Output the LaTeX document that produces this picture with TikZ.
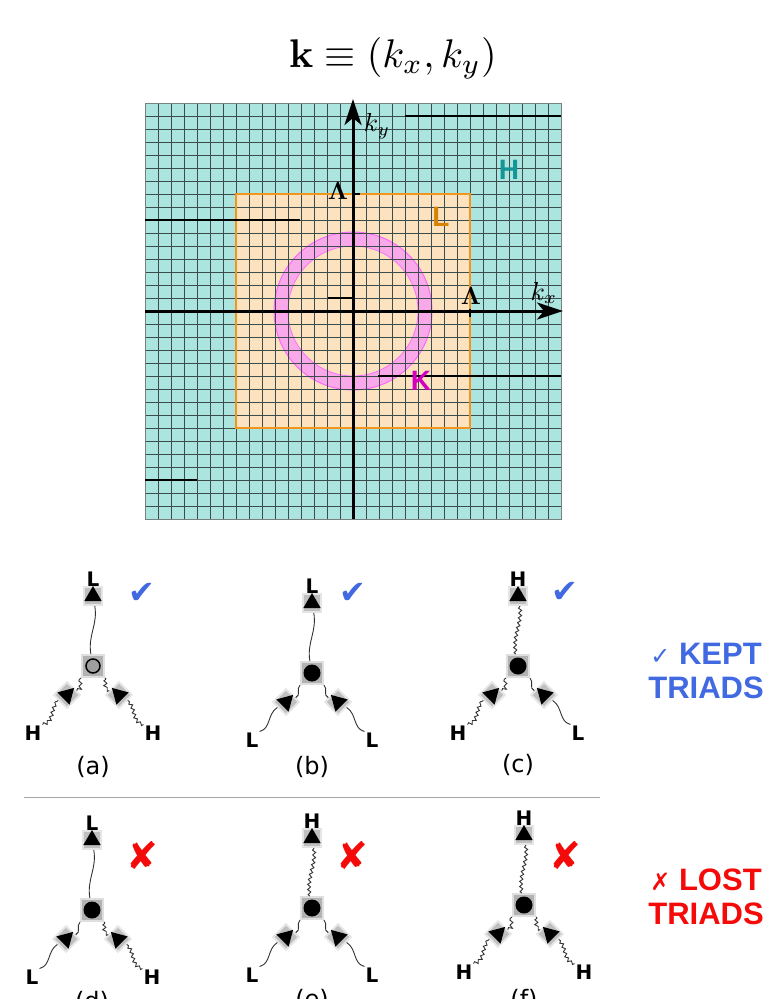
\documentclass[tikz,border=0pt]{standalone}
\usepackage[no-math]{fontspec}
\newfontfamily\labfont{DejaVu Sans}
\newfontfamily\headfont{Liberation Sans}
\usepackage{amsmath,amssymb}
\usetikzlibrary{arrows.meta,shapes.geometric,decorations.pathmorphing,positioning}
\definecolor{highTeal}{RGB}{172,228,224}
\definecolor{highText}{RGB}{20,150,150}
\definecolor{lowFill}{RGB}{253,226,192}
\definecolor{lowEdge}{RGB}{240,150,30}
\definecolor{lowText}{RGB}{215,130,0}
\definecolor{ringPink}{RGB}{248,150,248}
\definecolor{ringText}{RGB}{210,0,190}
\definecolor{gridGray}{RGB}{60,75,75}
\definecolor{keptBlue}{RGB}{65,105,225}
\definecolor{lostRed}{RGB}{245,10,10}

\tikzset{
  gridline/.style={draw=gridGray, line width=.7pt},
  axisline/.style={line width=3pt, -{Stealth[length=26pt,width=17pt,inset=7pt]}},
  vbox/.style={rectangle, minimum size=22pt, inner sep=0, fill=gray!60, draw=gray!25, line width=2pt},
  vdot/.style={circle, minimum size=17pt, inner sep=0, fill=black},
  vring/.style={circle, minimum size=14pt, inner sep=0, fill=gray!75, draw=black, line width=1.5pt},
  abox/.style={rectangle, minimum size=18pt, inner sep=0, fill=gray!50, draw=gray!20, line width=2pt},
  headtri/.style={regular polygon, regular polygon sides=3, minimum size=20pt, inner sep=0, fill=black},
  propL/.style={draw=black!80, line width=.9pt},
  propH/.style={draw=black!80, line width=.9pt, decorate,
    decoration={snake, amplitude=1.5pt, segment length=5pt}},
  leglab/.style={font=\labfont\bfseries\fontsize{20}{20}\selectfont, inner sep=1pt},
  capfont/.style={font=\labfont\fontsize{24}{24}\selectfont},
  okmark/.style={font=\labfont\fontsize{32}{32}\selectfont, text=keptBlue},
  nomark/.style={font=\labfont\fontsize{38}{38}\selectfont, text=lostRed},
  regionlab/.style={font=\headfont\bfseries\fontsize{28}{28}\selectfont},
  sidelab/.style={font=\headfont\bfseries\fontsize{31}{34}\selectfont, align=center}
}

% one triad: x, y, top leg, left leg, right leg, caption, vertex style, caption offset
\newcommand{\triad}[8]{%
  \begin{scope}[shift={(#1,#2)}]
    \node[vbox] (v) at (0,0) {};
    \node[#7] (vc) at (v) {};
    \node[abox] (t) at (0,70) {};
    \node[headtri] (tt) at (t) {};
    \node[abox, rotate=-45] (l) at (-26,-29) {};
    \node[headtri, rotate=-45] (lt) at (l) {};
    \node[abox, rotate=45] (r) at (26,-29) {};
    \node[headtri, rotate=45] (rt) at (r) {};
    \node[leglab] (tl) at (0,87) {#3};
    \node[leglab] (ll) at (-60,-67) {#4};
    \node[leglab] (rl) at (60,-67) {#5};
    \draw[prop#3] (v) to[out=100,in=-80] (t);
    \draw[prop#4] (ll.north east) to[out=15,in=235] (l);
    \draw[prop#4] (l) to[out=55,in=225] (v);
    \draw[prop#5] (rl.north west) to[out=165,in=-55] (r);
    \draw[prop#5] (r) to[out=125,in=-45] (v);
    \node[capfont] (cap) at (0,#8) {(#6)};
  \end{scope}}

\begin{document}
\begin{tikzpicture}[x=1pt, y=1pt]
  \useasboundingbox (0,0) rectangle (769,-999);

  \node (title) at (393,-58) {\scalebox{4}{$\mathbf{k}\equiv(k_x,k_y)$}};

  % momentum plane
  \begin{scope}[shift={(353,-311)}]
    \fill[highTeal] (-208,-208) rectangle (208,208);
    \fill[lowFill] (-117,-117) rectangle (117,117);
    \draw[ringPink, opacity=.75, line width=14pt] (0,0) circle (72);
    \draw[ringPink!70!magenta, line width=1pt] (0,0) circle (79);
    \draw[ringPink!70!magenta, line width=.7pt] (0,0) circle (65);
    \draw[gridline] (-208,-208) grid[step=13] (208,208);
    \draw[lowEdge, line width=1.5pt] (-117,-117) rectangle (117,117);
    \draw[gridGray!70, line width=1pt] (-208,-208) rectangle (208,208);
    \draw[black, line width=1.1pt] (52,195) -- (208,195);
    \draw[black, line width=1.1pt] (-208,91) -- (-53,91);
    \draw[black, line width=1.1pt] (25,-65) -- (208,-65);
    \draw[black, line width=1.1pt] (-208,-169) -- (-156,-169);
    \draw[black, line width=1.1pt] (-25,13) -- (0,13);
    \draw[axisline] (-208,0) -- (210,0);
    \draw[axisline] (0,-208) -- (0,212);
    \draw[line width=1.5pt] (0,117) -- (7,117);
    \draw[line width=1.5pt] (117,2) -- (117,-6);
    \node (lamy) at (-15,120) {\scalebox{2.5}{$\mathbf{\Lambda}$}};
    \node (lamx) at (118,15) {\scalebox{2.5}{$\mathbf{\Lambda}$}};
    \node (ky) at (24,185) {\scalebox{2.6}{$k_y$}};
    \node (kx) at (191,18) {\scalebox{2.6}{$k_x$}};
    \node[regionlab, text=highText] (hlab) at (156,141) {H};
    \node[regionlab, text=lowText] (llab) at (88,94) {L};
    \node[regionlab, text=ringText] (klab) at (68,-70) {K};
  \end{scope}

  % kept triads
  \triad{93}{-666}{L}{H}{H}{a}{vring}{-101}
  \triad{312}{-673}{L}{L}{L}{b}{vdot}{-94}
  \triad{518}{-666}{H}{H}{L}{c}{vdot}{-99}
  \node[okmark] (ma) at (142,-593) {✔};
  \node[okmark] (mb) at (353,-593) {✔};
  \node[okmark] (mc) at (565,-592) {✔};
  \node[sidelab, text=keptBlue] (kept) at (706,-671)
    {{\labfont\fontsize{24}{24}\selectfont ✓} KEPT\\TRIADS};

  \draw[gray!70, line width=1pt] (24,-797) -- (600,-797);

  % lost triads
  \triad{92}{-910}{L}{L}{H}{d}{vdot}{-92}
  \triad{312}{-908}{H}{L}{L}{e}{vdot}{-92}
  \triad{524}{-905}{H}{H}{H}{f}{vdot}{-95}
  \node[nomark] (md) at (142,-855) {✘};
  \node[nomark] (me) at (352,-855) {✘};
  \node[nomark] (mf) at (565,-855) {✘};
  \node[sidelab, text=lostRed] (lost) at (706,-897)
    {{\labfont\fontsize{24}{24}\selectfont ✗} LOST\\TRIADS};
\end{tikzpicture}
\end{document}
